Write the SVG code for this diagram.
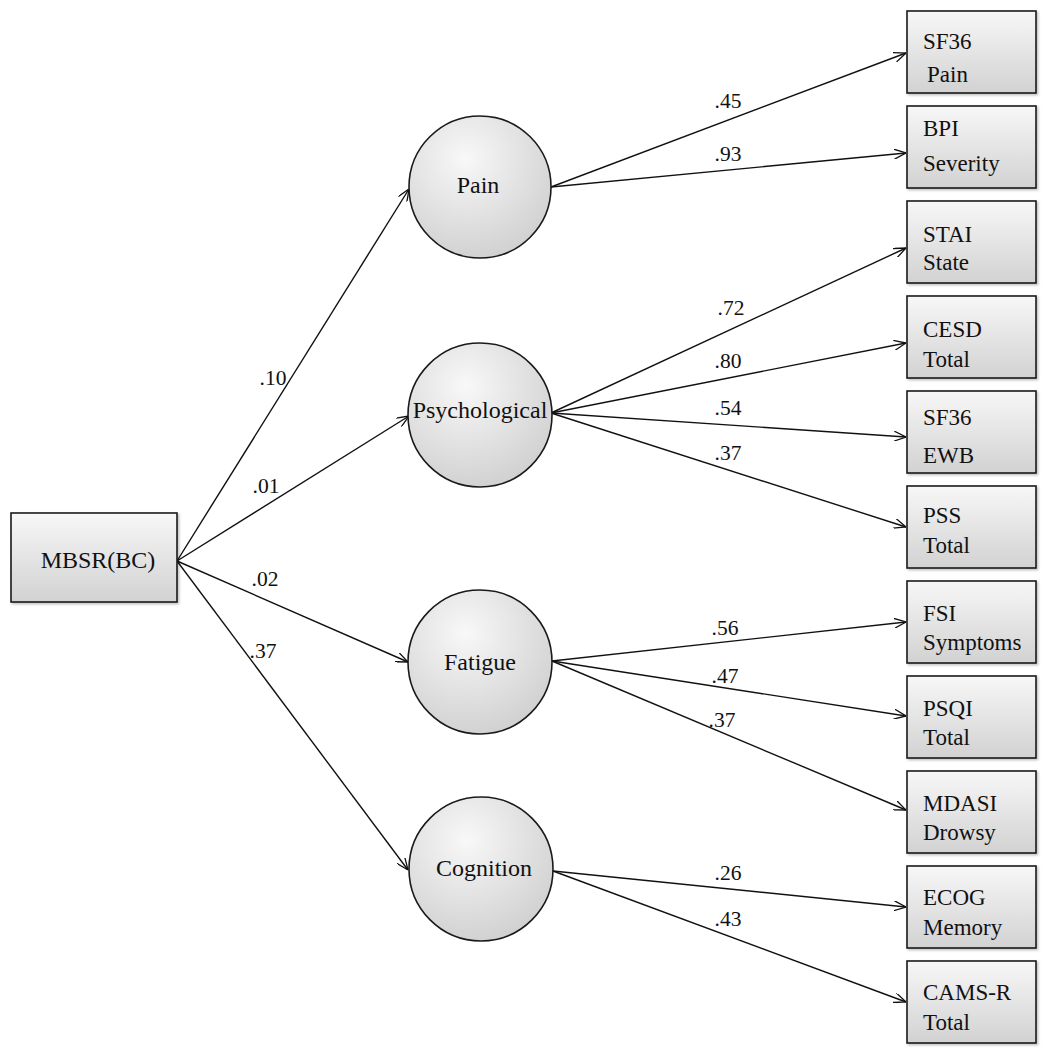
<svg xmlns="http://www.w3.org/2000/svg" width="1049" height="1050" viewBox="0 0 1049 1050">
<style>
  .t { font-family: "Liberation Serif", "Times New Roman", serif; font-size: 23px; fill: #111; }
  .c { font-family: "Liberation Serif", "Times New Roman", serif; font-size: 24px; fill: #111; text-anchor: middle; }
  .lbl { font-family: "Liberation Serif", "Times New Roman", serif; font-size: 21.5px; fill: #111; text-anchor: middle; }
  .box { fill: url(#boxGrad); stroke: #1a1a1a; stroke-width: 1.6; filter: url(#sh); }
  .circ { fill: url(#circGrad); stroke: #1a1a1a; stroke-width: 1.6; }
  .edge { stroke: #111; stroke-width: 1.4; fill: none; marker-end: url(#arr); }
</style>
<defs>
  <linearGradient id="boxGrad" x1="0" y1="0" x2="0" y2="1">
    <stop offset="0" stop-color="#f7f7f7"/>
    <stop offset="1" stop-color="#d2d2d2"/>
  </linearGradient>
  <radialGradient id="circGrad" cx="0.4" cy="0.3" r="0.75">
    <stop offset="0" stop-color="#f8f8f8"/>
    <stop offset="1" stop-color="#cfcfcf"/>
  </radialGradient>
  <filter id="sh" x="-10%" y="-10%" width="125%" height="125%">
    <feDropShadow dx="1.5" dy="1.5" stdDeviation="1.2" flood-color="#000" flood-opacity="0.25"/>
  </filter>
  <marker id="arr" viewBox="0 0 12 10" refX="12" refY="5" markerWidth="12" markerHeight="10" markerUnits="userSpaceOnUse" orient="auto">
    <path d="M0,0 L12,5 L0,10" fill="none" stroke="#111" stroke-width="1.3"/>
  </marker>
</defs>
<rect width="1049" height="1050" fill="#fff"/>

<g id="connectors">
  <line class="edge" x1="177" y1="561" x2="409" y2="189"/>
  <line class="edge" x1="177" y1="561" x2="409" y2="416"/>
  <line class="edge" x1="177" y1="561" x2="408" y2="662"/>
  <line class="edge" x1="177" y1="561" x2="408" y2="870"/>
  <line class="edge" x1="551" y1="187" x2="906" y2="53"/>
  <line class="edge" x1="551" y1="187" x2="906" y2="153"/>
  <line class="edge" x1="551" y1="413" x2="906" y2="248"/>
  <line class="edge" x1="551" y1="413" x2="906" y2="343"/>
  <line class="edge" x1="551" y1="413" x2="906" y2="437"/>
  <line class="edge" x1="551" y1="413" x2="906" y2="527"/>
  <line class="edge" x1="552" y1="661" x2="906" y2="622"/>
  <line class="edge" x1="552" y1="661" x2="906" y2="716"/>
  <line class="edge" x1="552" y1="661" x2="906" y2="810"/>
  <line class="edge" x1="553" y1="871" x2="906" y2="907"/>
  <line class="edge" x1="553" y1="871" x2="906" y2="1002"/>
  <text class="lbl" x="273" y="385">.10</text>
  <text class="lbl" x="266" y="493">.01</text>
  <text class="lbl" x="265" y="586">.02</text>
  <text class="lbl" x="263" y="658">.37</text>
  <text class="lbl" x="728" y="108">.45</text>
  <text class="lbl" x="728" y="161">.93</text>
  <text class="lbl" x="731" y="315">.72</text>
  <text class="lbl" x="728" y="368">.80</text>
  <text class="lbl" x="728" y="415">.54</text>
  <text class="lbl" x="728" y="460">.37</text>
  <text class="lbl" x="725" y="635">.56</text>
  <text class="lbl" x="725" y="683">.47</text>
  <text class="lbl" x="722" y="727">.37</text>
  <text class="lbl" x="728" y="880">.26</text>
  <text class="lbl" x="728" y="926">.43</text>
</g>

<g id="mbsr">
  <rect class="box" x="11" y="513" width="166" height="89"/>
  <text class="c" x="98" y="568">MBSR(BC)</text>
</g>

<g id="pain">
  <circle class="circ" cx="480" cy="187" r="71"/>
  <text class="c" x="478" y="193">Pain</text>
</g>
<g id="psychological">
  <circle class="circ" cx="480" cy="415" r="72"/>
  <text class="c" x="480" y="418">Psychological</text>
</g>
<g id="fatigue">
  <circle class="circ" cx="480" cy="662" r="72"/>
  <text class="c" x="480" y="670">Fatigue</text>
</g>
<g id="cognition">
  <circle class="circ" cx="481" cy="869" r="72"/>
  <text class="c" x="484" y="876">Cognition</text>
</g>

<g id="sf36-pain">
  <rect class="box" x="907" y="11" width="129" height="82"/>
  <text class="t" x="923" y="49">SF36</text>
  <text class="t" x="927" y="82">Pain</text>
</g>
<g id="bpi-severity">
  <rect class="box" x="907" y="106" width="129" height="82"/>
  <text class="t" x="923" y="136">BPI</text>
  <text class="t" x="923" y="171">Severity</text>
</g>
<g id="stai-state">
  <rect class="box" x="907" y="201" width="129" height="82"/>
  <text class="t" x="923" y="242">STAI</text>
  <text class="t" x="923" y="270">State</text>
</g>
<g id="cesd-total">
  <rect class="box" x="907" y="296" width="129" height="82"/>
  <text class="t" x="923" y="337">CESD</text>
  <text class="t" x="923" y="367">Total</text>
</g>
<g id="sf36-ewb">
  <rect class="box" x="907" y="391" width="129" height="82"/>
  <text class="t" x="923" y="425">SF36</text>
  <text class="t" x="923" y="463">EWB</text>
</g>
<g id="pss-total">
  <rect class="box" x="907" y="486" width="129" height="82"/>
  <text class="t" x="923" y="523">PSS</text>
  <text class="t" x="923" y="553">Total</text>
</g>
<g id="fsi-symptoms">
  <rect class="box" x="907" y="581" width="129" height="82"/>
  <text class="t" x="923" y="621">FSI</text>
  <text class="t" x="923" y="650">Symptoms</text>
</g>
<g id="psqi-total">
  <rect class="box" x="907" y="676" width="129" height="82"/>
  <text class="t" x="923" y="716">PSQI</text>
  <text class="t" x="923" y="745">Total</text>
</g>
<g id="mdasi-drowsy">
  <rect class="box" x="907" y="771" width="129" height="82"/>
  <text class="t" x="923" y="811">MDASI</text>
  <text class="t" x="923" y="840">Drowsy</text>
</g>
<g id="ecog-memory">
  <rect class="box" x="907" y="866" width="129" height="82"/>
  <text class="t" x="923" y="905">ECOG</text>
  <text class="t" x="923" y="935">Memory</text>
</g>
<g id="cams-total">
  <rect class="box" x="907" y="961" width="129" height="82"/>
  <text class="t" x="923" y="1000">CAMS-R</text>
  <text class="t" x="923" y="1030">Total</text>
</g>
</svg>
